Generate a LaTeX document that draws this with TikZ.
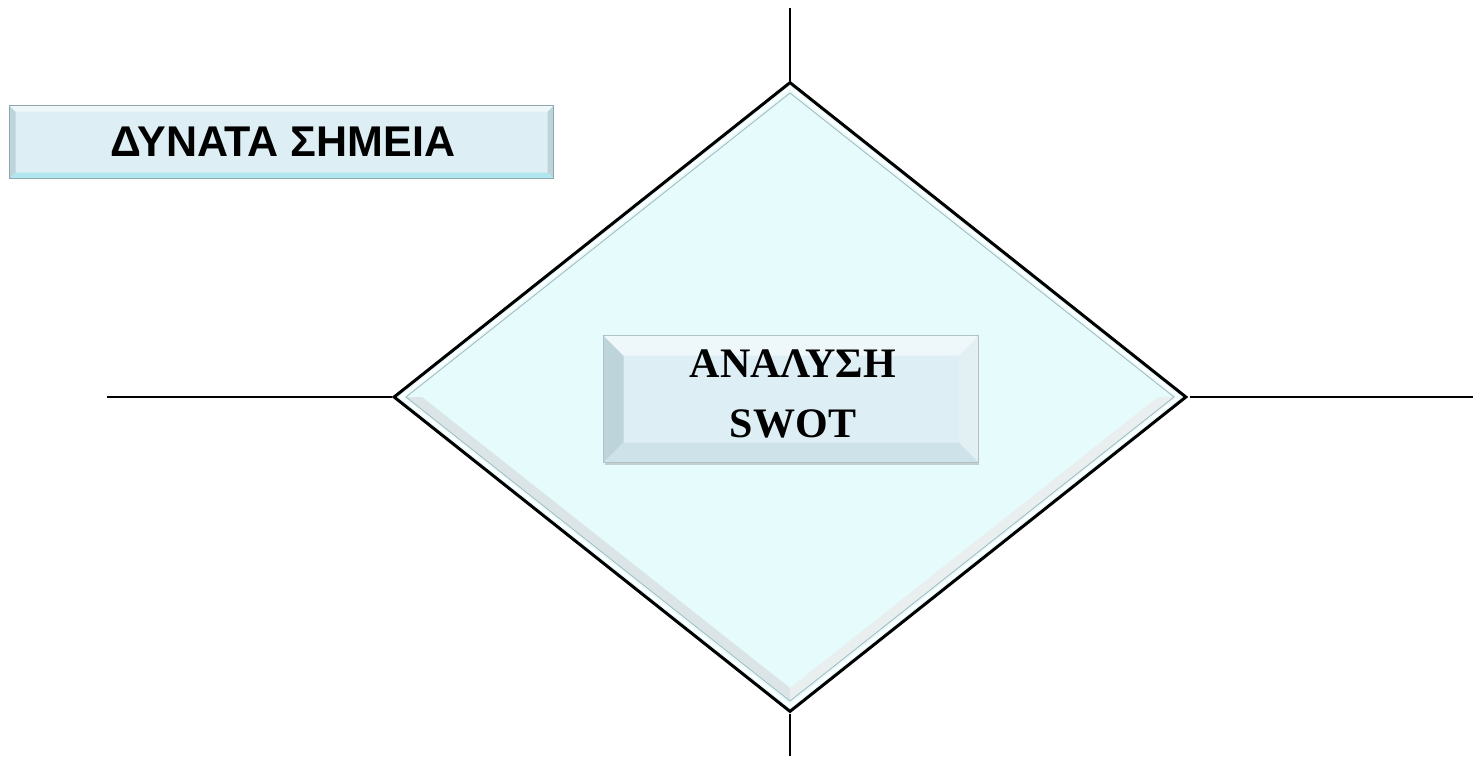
\documentclass[tikz,border=0pt]{standalone}
\usepackage{fontspec}
\setmainfont{Liberation Serif}
\newfontfamily\boxsans{Liberation Sans}
\usetikzlibrary{shapes.geometric,calc,shadows}
\definecolor{diafill}{HTML}{E6FBFC}
\definecolor{bevgray}{HTML}{A6BCC0}
\definecolor{boxfill}{HTML}{DDEEF4}
\definecolor{boxedge}{HTML}{8FA7AD}
\definecolor{bevleft}{HTML}{BCD4DA}
\definecolor{bevtop}{HTML}{EEF8FA}
\definecolor{bevright}{HTML}{E2EFF3}
\definecolor{bevbot}{HTML}{CDE3E9}
\definecolor{cyanbot}{HTML}{B0E6EE}
\tikzset{
  axis/.style={line width=1.6pt, black},
  diam/.style={diamond, draw=black, line width=3pt, fill=diafill, inner sep=0pt,
    minimum width=793pt, minimum height=630pt, aspect=1.26},
  labelbox/.style={rectangle, draw=boxedge, line width=1pt, fill=boxfill, inner sep=0pt},
}
\begin{document}
\begin{tikzpicture}[x=1pt,y=-1pt]
\useasboundingbox (0,0) rectangle (1473,756);
\fill[white] (0,0) rectangle (1473,756);
% diamond
\node[diam] (D) at (790,397) {};
% bevel inside diamond
\begin{scope}[shift={(D.center)}]
  \fill[bevgray!40] (-383,0) -- (0,303) -- (0,291) -- (-368,0) -- cycle;
  \fill[bevgray!25] (383,0) -- (0,303) -- (0,291) -- (368,0) -- cycle;
  \draw[white, line width=2.5pt] (0,-309) -- (389,0) -- (0,309) -- (-389,0) -- cycle;
  \draw[bevgray, line width=0.9pt] (0,-304) -- (384,0) -- (0,304) -- (-384,0) -- cycle;
\end{scope}
% axis lines
\coordinate (topend) at (790,8);
\coordinate (botend) at (790,756);
\coordinate (leftend) at (107,397);
\coordinate (rightend) at (1473,397);
\coordinate (rightstart) at (1190,397);
\draw[axis] (topend) -- (D.north);
\draw[axis] (D.south) -- (botend);
\draw[axis] (leftend) -- (D.west);
\draw[axis] (rightstart) -- (rightend);
% strengths box
\node[labelbox, minimum width=543pt, minimum height=72pt] (S) at (281.5,142) {};
\fill[bevleft] (S.north west) -- ++(6,6) -- ($(S.south west)+(6,-6)$) -- (S.south west) -- cycle;
\fill[bevleft] (S.north east) -- ++(-6,6) -- ($(S.south east)+(-6,-6)$) -- (S.south east) -- cycle;
\fill[cyanbot] (S.south west) -- ++(6,-6) -- ($(S.south east)+(-6,-6)$) -- (S.south east) -- cycle;
\fill[bevtop] (S.north west) -- ++(6,6) -- ($(S.north east)+(-6,6)$) -- (S.north east) -- cycle;
\draw[boxedge, line width=1pt] (S.north west) rectangle (S.south east);
\node[font=\boxsans\bfseries\fontsize{43}{46}\selectfont, anchor=center] (St) at (283,142) {ΔΥΝΑΤΑ ΣΗΜΕΙΑ};
% swot box
\node[labelbox, minimum width=374pt, minimum height=126pt, drop shadow={shadow xshift=1pt, shadow yshift=-3pt, opacity=0.35}] (W) at (791,399) {};
\fill[bevleft] (W.north west) -- ++(20,20) -- ($(W.south west)+(20,-20)$) -- (W.south west) -- cycle;
\fill[bevright] (W.north east) -- ++(-20,20) -- ($(W.south east)+(-20,-20)$) -- (W.south east) -- cycle;
\fill[bevtop] (W.north west) -- ++(20,20) -- ($(W.north east)+(-20,20)$) -- (W.north east) -- cycle;
\fill[bevbot] (W.south west) -- ++(20,-20) -- ($(W.south east)+(-20,-20)$) -- (W.south east) -- cycle;
\draw[boxedge!70, line width=0.8pt] (W.north west) rectangle (W.south east);
\node[font=\bfseries\fontsize{42}{60}\selectfont, align=center, anchor=center] (Wt) at (793,394) {ΑΝΑΛΥΣΗ\\SWOT};
\end{tikzpicture}
\end{document}
